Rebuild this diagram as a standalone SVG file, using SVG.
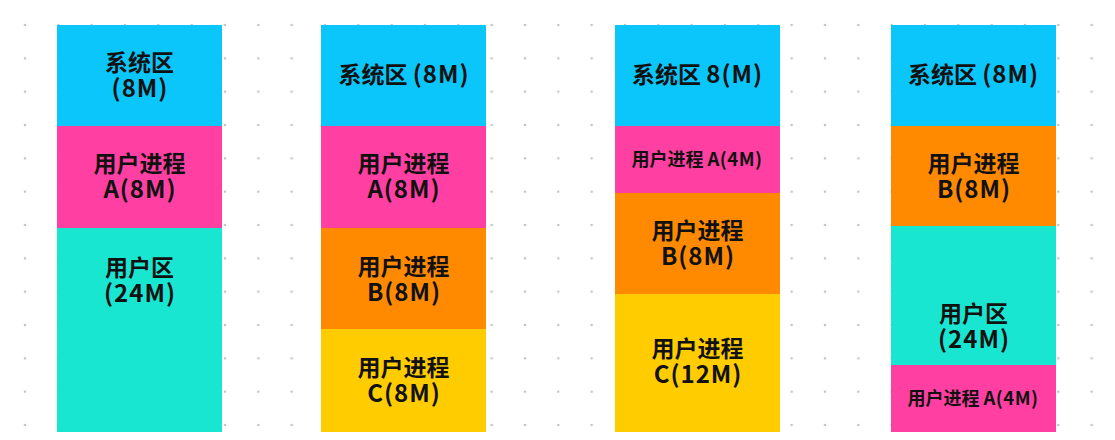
<svg xmlns="http://www.w3.org/2000/svg" width="1115" height="440" viewBox="0 0 1115 440">
<defs>
<pattern id="dots" x="8.333" y="8.333" width="33.333" height="33.333" patternUnits="userSpaceOnUse">
<circle cx="16.667" cy="16.667" r="1.3" fill="#c4c4c4"/>
</pattern>
<style>
.sys{fill:#0ac6fa}
.pink{fill:#ff3fa2}
.teal{fill:#19e6d0}
.orange{fill:#ff8a00}
.yellow{fill:#ffcc00}
text{font-family:"Noto Sans CJK SC","Noto Sans",sans-serif;font-weight:700;fill:#111;text-anchor:middle;font-size:23px}
text.sm{font-size:18px}
.lat{letter-spacing:1px;font-size:24px}
text.sm .lat{letter-spacing:0.5px;font-size:18.5px}
</style>
</defs>
<rect width="1115" height="440" fill="#ffffff"/>
<rect width="1115" height="440" fill="url(#dots)"/>

<g id="col1">
<g id="c1-sys"><rect class="sys" x="57" y="25" width="165" height="101"/><text x="139.5" y="71">系统区<tspan class="lat" x="140" dy="26">(8M)</tspan></text></g>
<g id="c1-a"><rect class="pink" x="57" y="126" width="165" height="102"/><text x="139.5" y="172">用户进程<tspan class="lat" x="140" dy="26">A(8M)</tspan></text></g>
<g id="c1-user"><rect class="teal" x="57" y="228" width="165" height="204"/><text x="139.5" y="276">用户区<tspan class="lat" x="140" dy="26">(24M)</tspan></text></g>
</g>

<g id="col2">
<g id="c2-sys"><rect class="sys" x="321" y="25" width="165" height="101"/><text x="404" y="83">系统区 <tspan class="lat">(8M)</tspan></text></g>
<g id="c2-a"><rect class="pink" x="321" y="126" width="165" height="102"/><text x="403.5" y="172">用户进程<tspan class="lat" x="404" dy="26">A(8M)</tspan></text></g>
<g id="c2-b"><rect class="orange" x="321" y="228" width="165" height="101"/><text x="403.5" y="275">用户进程<tspan class="lat" x="404" dy="26">B(8M)</tspan></text></g>
<g id="c2-c"><rect class="yellow" x="321" y="329" width="165" height="103"/><text x="403.5" y="376">用户进程<tspan class="lat" x="404" dy="26">C(8M)</tspan></text></g>
</g>

<g id="col3">
<g id="c3-sys"><rect class="sys" x="615" y="25" width="165" height="101"/><text x="697.5" y="83">系统区 <tspan class="lat">8(M)</tspan></text></g>
<g id="c3-a"><rect class="pink" x="615" y="126" width="165" height="67"/><text class="sm" x="697" y="166">用户进程 <tspan class="lat">A(4M)</tspan></text></g>
<g id="c3-b"><rect class="orange" x="615" y="193" width="165" height="101"/><text x="697.5" y="239">用户进程<tspan class="lat" x="698" dy="26">B(8M)</tspan></text></g>
<g id="c3-c"><rect class="yellow" x="615" y="294" width="165" height="138"/><text x="697.5" y="357">用户进程<tspan class="lat" x="698" dy="26">C(12M)</tspan></text></g>
</g>

<g id="col4">
<g id="c4-sys"><rect class="sys" x="891" y="25" width="165" height="101"/><text x="973.5" y="83">系统区 <tspan class="lat">(8M)</tspan></text></g>
<g id="c4-b"><rect class="orange" x="891" y="126" width="165" height="100"/><text x="973.5" y="172">用户进程<tspan class="lat" x="974" dy="26">B(8M)</tspan></text></g>
<g id="c4-user"><rect class="teal" x="891" y="226" width="165" height="139"/><text x="973.5" y="322">用户区<tspan class="lat" x="974" dy="26">(24M)</tspan></text></g>
<g id="c4-a"><rect class="pink" x="891" y="365" width="165" height="67"/><text class="sm" x="973" y="405">用户进程 <tspan class="lat">A(4M)</tspan></text></g>
</g>
</svg>
